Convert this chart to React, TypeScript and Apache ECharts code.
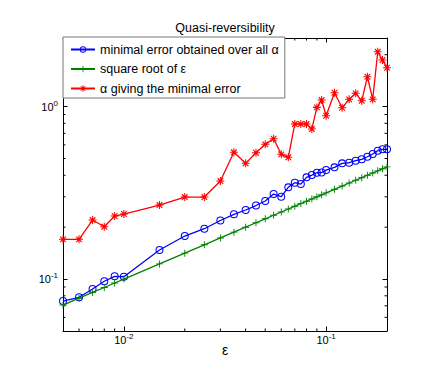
import React, { useEffect, useRef } from 'react';
import * as echarts from 'echarts';

const epsilonValues = [0.005, 0.006, 0.007, 0.008, 0.009, 0.01, 0.015, 0.02, 0.025, 0.03, 0.035, 0.04, 0.045, 0.05, 0.055, 0.06, 0.065, 0.07, 0.075, 0.08, 0.085, 0.09, 0.095, 0.1, 0.11, 0.12, 0.13, 0.14, 0.15, 0.16, 0.17, 0.18, 0.19, 0.2];
const minimalError = [0.0746, 0.0784, 0.0876, 0.0971, 0.1038, 0.1032, 0.1474, 0.1777, 0.1959, 0.2186, 0.2374, 0.2515, 0.267, 0.2836, 0.3113, 0.3003, 0.3404, 0.362, 0.3557, 0.389, 0.4011, 0.4137, 0.4148, 0.4287, 0.4446, 0.469, 0.4728, 0.4856, 0.4949, 0.5123, 0.5311, 0.555, 0.5655, 0.5655];
const sqrtEpsilon = [0.0707, 0.0775, 0.0837, 0.0894, 0.0949, 0.1, 0.1225, 0.1414, 0.1581, 0.1732, 0.1871, 0.2, 0.2121, 0.2236, 0.2345, 0.2449, 0.255, 0.2646, 0.2739, 0.2828, 0.2915, 0.3, 0.3082, 0.3162, 0.3317, 0.3464, 0.3606, 0.3742, 0.3873, 0.4, 0.4123, 0.4243, 0.4359, 0.4472];
const alphaMinimal = [0.17, 0.17, 0.22, 0.2012, 0.2321, 0.2384, 0.2688, 0.299, 0.299, 0.3703, 0.5433, 0.469, 0.5403, 0.6043, 0.6514, 0.5289, 0.5082, 0.7925, 0.7925, 0.7925, 0.7413, 0.99, 1.092, 0.8854, 1.2035, 0.985, 1.102, 1.194, 1.081, 1.49, 1.102, 2.08, 1.862, 1.68];

const seriesNames = ['minimal error obtained over all α', 'square root of ε', 'α giving the minimal error'];
const xRange = [0.005, 0.2];
const yRange = [0.05, 2.5];
const xMinorTicks = [0.006, 0.007, 0.008, 0.009, 0.02, 0.03, 0.04, 0.05, 0.06, 0.07, 0.08, 0.09];
const yMinorTicks = [0.06, 0.07, 0.08, 0.09, 0.2, 0.3, 0.4, 0.5, 0.6, 0.7, 0.8, 0.9, 2];

const FONT = 'Liberation Sans, Arial, Helvetica, sans-serif';
const RING = 'path://M5,0A5,5,0,1,1,5,10A5,5,0,1,1,5,0ZM5,1.3A3.7,3.7,0,1,0,5,8.7A3.7,3.7,0,1,0,5,1.3Z';
const PLUS = 'path://M4.35,0H5.65V4.35H10V5.65H5.65V10H4.35V5.65H0V4.35H4.35Z';
const STAR = 'path://M0,4.35H10V5.65H0ZM4.35,0H5.65V10H4.35ZM1.0,2.0L2.0,1.0L9.0,8.0L8.0,9.0ZM8.0,1.0L9.0,2.0L2.0,9.0L1.0,8.0Z';

const powLabel = (v: number) => {
  const e = Math.log10(v);
  const r = Math.round(e);
  if (Math.abs(e - r) > 1e-6) return '';
  return `{b|10}{s|${r}}`;
};

const labelRich = {
  b: { fontSize: 11, fontFamily: FONT, color: '#000' },
  s: { fontSize: 8, fontFamily: FONT, color: '#000', padding: [0, 0, 7, 0] },
};

const MINOR_LEN = 2.5;

export default function App() {
  const ref = useRef<HTMLDivElement>(null);
  useEffect(() => {
    if (!ref.current) return;
    const chart = echarts.init(ref.current, null, { renderer: 'svg' });
    const mkData = (ys: number[]) => epsilonValues.map((x, i) => [x, ys[i]]);
    const axisCommon = {
      type: 'log',
      logBase: 10,
      axisLine: { show: true, onZero: false, lineStyle: { color: '#000', width: 1 } },
      axisTick: { show: true, inside: true, length: 4.5, lineStyle: { color: '#000', width: 1 } },
      splitLine: { show: false },
      minorTick: { show: false },
    };
    chart.setOption({
      animation: false,
      backgroundColor: '#fff',
      title: {
        text: 'Quasi-reversibility',
        left: 225,
        textAlign: 'center',
        top: 21,
        padding: 0,
        textStyle: { fontSize: 12.5, fontWeight: 'normal', fontFamily: FONT, color: '#000' },
      },
      legend: {
        data: seriesNames,
        orient: 'vertical',
        left: 63,
        top: 37,
        padding: [6, 6, 3, 7],
        itemGap: 6.5,
        itemWidth: 24,
        itemHeight: 8,
        backgroundColor: '#fff',
        borderColor: '#777',
        borderWidth: 1,
        borderRadius: 0,
        textStyle: { fontSize: 12.5, fontFamily: FONT, color: '#000' },
      },
      grid: { left: 63, top: 38, width: 324, height: 293, containLabel: false },
      xAxis: [
        {
          ...axisCommon,
          position: 'bottom',
          min: xRange[0],
          max: xRange[1],
          name: 'ε',
          nameLocation: 'middle',
          nameGap: 19,
          nameMoveOverlap: false,
          nameTextStyle: { fontSize: 14, fontFamily: FONT, color: '#000', verticalAlign: 'middle' },
          axisLabel: { formatter: powLabel, rich: labelRich, margin: 1, color: '#000' },
        },
        {
          ...axisCommon,
          position: 'top',
          min: xRange[0],
          max: xRange[1],
          axisLabel: { show: false },
        },
      ],
      yAxis: [
        {
          ...axisCommon,
          position: 'left',
          min: yRange[0],
          max: yRange[1],
          axisLabel: { formatter: powLabel, rich: labelRich, margin: 5, color: '#000' },
        },
        {
          ...axisCommon,
          position: 'right',
          min: yRange[0],
          max: yRange[1],
          axisLabel: { show: false },
        },
      ],
      series: [
        {
          name: seriesNames[0],
          type: 'line',
          data: mkData(minimalError),
          symbol: RING,
          symbolSize: 8,
          lineStyle: { color: '#0000ff', width: 1.3 },
          itemStyle: { color: '#0000ff' },
          z: 2,
        },
        {
          name: seriesNames[1],
          type: 'line',
          data: mkData(sqrtEpsilon),
          symbol: PLUS,
          symbolSize: 7,
          lineStyle: { color: '#008000', width: 1.3 },
          itemStyle: { color: '#008000' },
          z: 3,
        },
        {
          name: seriesNames[2],
          type: 'line',
          data: mkData(alphaMinimal),
          symbol: STAR,
          symbolSize: 8,
          lineStyle: { color: '#ff0000', width: 1.3 },
          itemStyle: { color: '#ff0000' },
          z: 4,
        },
        {
          type: 'custom',
          silent: true,
          data: xMinorTicks.map((v) => [v, yRange[0]]),
          renderItem: (_p: any, api: any) => {
            const x = api.value(0);
            const b = api.coord([x, yRange[0]]);
            const t = api.coord([x, yRange[1]]);
            return {
              type: 'group',
              children: [
                { type: 'line', shape: { x1: b[0], y1: b[1], x2: b[0], y2: b[1] - MINOR_LEN }, style: { stroke: '#000', lineWidth: 1 } },
                { type: 'line', shape: { x1: t[0], y1: t[1], x2: t[0], y2: t[1] + MINOR_LEN }, style: { stroke: '#000', lineWidth: 1 } },
              ],
            };
          },
          z: 1,
        },
        {
          type: 'custom',
          silent: true,
          data: yMinorTicks.map((v) => [xRange[0], v]),
          renderItem: (_p: any, api: any) => {
            const y = api.value(1);
            const l = api.coord([xRange[0], y]);
            const r = api.coord([xRange[1], y]);
            return {
              type: 'group',
              children: [
                { type: 'line', shape: { x1: l[0], y1: l[1], x2: l[0] + MINOR_LEN, y2: l[1] }, style: { stroke: '#000', lineWidth: 1 } },
                { type: 'line', shape: { x1: r[0], y1: r[1], x2: r[0] - MINOR_LEN, y2: r[1] }, style: { stroke: '#000', lineWidth: 1 } },
              ],
            };
          },
          z: 1,
        },
      ],
    });
    return () => chart.dispose();
  }, []);
  return <div ref={ref} style={{ position: 'absolute', left: 0, top: 0, width: 436, height: 382 }} />;
}
